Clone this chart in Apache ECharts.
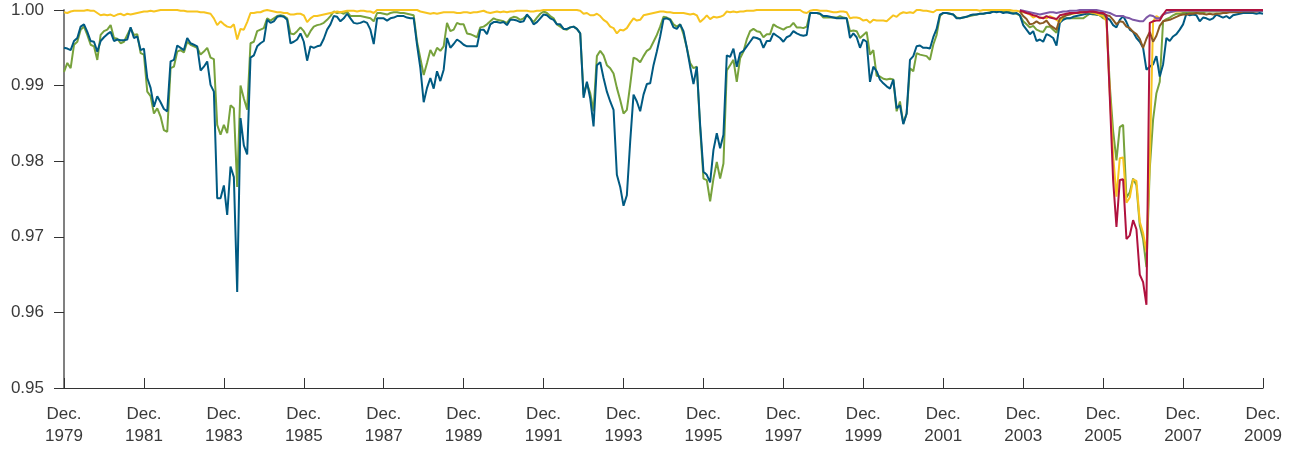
<!DOCTYPE html>
<html>
<head>
<meta charset="utf-8">
<script src="https://cdn.jsdelivr.net/npm/echarts@6/dist/echarts.min.js"></script>
<style>html,body{margin:0;padding:0;background:#fff}#chart{width:1296px;height:450px}</style>
</head>
<body>
<div id="chart"></div>
<script>
// Monthly observations, Dec. 1979 .. Dec. 2009 (361 months)
const monthNames = ['Jan.','Feb.','Mar.','Apr.','May','Jun.','Jul.','Aug.','Sep.','Oct.','Nov.','Dec.'];
const startYear = 1979, startMonth = 11, nMonths = 361;
const categories = [];
for (let i = 0; i < nMonths; i++) {
  const m = (startMonth + i) % 12;
  const y = startYear + Math.floor((startMonth + i) / 12);
  categories.push(monthNames[m] + ' ' + y);
}
const yTickLabels = ['0.95','0.96','0.97','0.98','0.99','1.00'];

const blue = [
0.9950,0.9949,0.9947,0.9959,0.9963,0.9978,0.9981,0.9971,0.9959,0.9958,
0.9945,0.9959,0.9964,0.9968,0.9971,0.9959,0.9961,0.9960,0.9960,0.9961,
0.9977,0.9963,0.9965,0.9947,0.9949,0.9910,0.9897,0.9872,0.9886,0.9878,
0.9869,0.9866,0.9932,0.9934,0.9953,0.9950,0.9947,0.9963,0.9956,0.9954,
0.9952,0.9920,0.9925,0.9932,0.9901,0.9892,0.9751,0.9751,0.9768,0.9729,
0.9793,0.9779,0.9627,0.9857,0.9821,0.9809,0.9937,0.9940,0.9952,0.9956,
0.9959,0.9987,0.9983,0.9985,0.9991,0.9992,0.9991,0.9987,0.9956,0.9958,
0.9961,0.9969,0.9958,0.9933,0.9952,0.9950,0.9952,0.9953,0.9962,0.9974,
0.9981,0.9992,0.9991,0.9985,0.9989,0.9995,0.9989,0.9983,0.9982,0.9983,
0.9985,0.9983,0.9974,0.9955,0.9989,0.9989,0.9989,0.9986,0.9989,0.9990,
0.9992,0.9992,0.9992,0.9990,0.9989,0.9989,0.9954,0.9923,0.9878,0.9897,
0.9910,0.9896,0.9919,0.9906,0.9921,0.9963,0.9950,0.9955,0.9961,0.9958,
0.9954,0.9952,0.9952,0.9952,0.9952,0.9974,0.9974,0.9968,0.9981,0.9984,
0.9984,0.9983,0.9984,0.9980,0.9987,0.9987,0.9986,0.9984,0.9985,0.9994,
0.9989,0.9981,0.9984,0.9989,0.9994,0.9993,0.9989,0.9987,0.9981,0.9981,
0.9975,0.9975,0.9977,0.9978,0.9975,0.9969,0.9884,0.9905,0.9883,0.9846,
0.9927,0.9931,0.9910,0.9892,0.9879,0.9868,0.9782,0.9766,0.9741,0.9755,
0.9826,0.9888,0.9879,0.9866,0.9888,0.9902,0.9903,0.9927,0.9945,0.9965,
0.9988,0.9989,0.9987,0.9977,0.9975,0.9981,0.9972,0.9950,0.9925,0.9902,
0.9925,0.9848,0.9786,0.9782,0.9772,0.9815,0.9837,0.9817,0.9835,0.9940,
0.9938,0.9949,0.9925,0.9943,0.9946,0.9952,0.9958,0.9964,0.9963,0.9961,
0.9950,0.9959,0.9959,0.9969,0.9966,0.9963,0.9958,0.9964,0.9966,0.9972,
0.9969,0.9967,0.9966,0.9967,0.9996,0.9996,0.9996,0.9995,0.9992,0.9992,
0.9991,0.9990,0.9989,0.9989,0.9989,0.9989,0.9963,0.9969,0.9964,0.9950,
0.9961,0.9958,0.9905,0.9925,0.9919,0.9908,0.9903,0.9899,0.9896,0.9908,
0.9870,0.9874,0.9849,0.9863,0.9934,0.9939,0.9952,0.9953,0.9950,0.9950,
0.9949,0.9964,0.9975,0.9994,0.9996,0.9996,0.9995,0.9994,0.9989,0.9989,
0.9990,0.9991,0.9993,0.9994,0.9994,0.9995,0.9995,0.9996,0.9996,0.9998,
0.9997,0.9998,0.9996,0.9997,0.9996,0.9995,0.9996,0.9993,0.9980,0.9974,
0.9968,0.9972,0.9959,0.9961,0.9958,0.9968,0.9966,0.9963,0.9953,0.9983,
0.9987,0.9989,0.9989,0.9991,0.9992,0.9993,0.9994,0.9995,0.9995,0.9995,
0.9994,0.9993,0.9993,0.9990,0.9987,0.9980,0.9977,0.9987,0.9992,0.9984,
0.9974,0.9971,0.9963,0.9958,0.9950,0.9921,0.9925,0.9928,0.9939,0.9912,
0.9928,0.9963,0.9959,0.9965,0.9968,0.9974,0.9981,0.9995,0.9993,0.9994,
0.9993,0.9985,0.9990,0.9989,0.9987,0.9989,0.9994,0.9992,0.9990,0.9992,
0.9989,0.9993,0.9994,0.9995,0.9996,0.9996,0.9996,0.9996,0.9995,0.9996,
0.9995];

const green = [
0.9918,0.9930,0.9923,0.9954,0.9958,0.9974,0.9978,0.9967,0.9954,0.9952,
0.9934,0.9967,0.9972,0.9974,0.9980,0.9963,0.9962,0.9956,0.9958,0.9967,
0.9976,0.9967,0.9968,0.9943,0.9941,0.9892,0.9886,0.9863,0.9870,0.9859,
0.9841,0.9839,0.9923,0.9925,0.9945,0.9947,0.9944,0.9958,0.9954,0.9952,
0.9950,0.9941,0.9945,0.9950,0.9937,0.9935,0.9848,0.9835,0.9848,0.9837,
0.9874,0.9870,0.9766,0.9900,0.9883,0.9868,0.9956,0.9958,0.9972,0.9974,
0.9976,0.9989,0.9986,0.9989,0.9992,0.9993,0.9992,0.9989,0.9969,0.9968,
0.9972,0.9977,0.9972,0.9964,0.9972,0.9978,0.9980,0.9981,0.9983,0.9987,
0.9992,0.9998,0.9996,0.9997,0.9995,0.9998,0.9992,0.9992,0.9992,0.9992,
0.9991,0.9990,0.9989,0.9985,0.9996,0.9996,0.9995,0.9994,0.9996,0.9997,
0.9997,0.9996,0.9996,0.9995,0.9994,0.9993,0.9958,0.9936,0.9914,0.9930,
0.9947,0.9939,0.9950,0.9946,0.9952,0.9983,0.9972,0.9974,0.9983,0.9981,
0.9981,0.9969,0.9968,0.9966,0.9964,0.9977,0.9978,0.9981,0.9985,0.9989,
0.9987,0.9986,0.9985,0.9983,0.9989,0.9991,0.9990,0.9987,0.9989,0.9993,
0.9989,0.9984,0.9990,0.9995,0.9998,0.9996,0.9992,0.9989,0.9981,0.9978,
0.9975,0.9974,0.9977,0.9978,0.9975,0.9969,0.9888,0.9903,0.9890,0.9866,
0.9939,0.9946,0.9940,0.9927,0.9923,0.9916,0.9897,0.9881,0.9863,0.9868,
0.9901,0.9937,0.9935,0.9931,0.9939,0.9946,0.9949,0.9958,0.9967,0.9978,
0.9991,0.9990,0.9988,0.9981,0.9978,0.9981,0.9968,0.9950,0.9930,0.9923,
0.9925,0.9844,0.9777,0.9775,0.9747,0.9777,0.9799,0.9777,0.9797,0.9920,
0.9927,0.9934,0.9905,0.9936,0.9945,0.9961,0.9972,0.9975,0.9972,0.9971,
0.9964,0.9968,0.9968,0.9981,0.9978,0.9976,0.9974,0.9977,0.9978,0.9983,
0.9977,0.9977,0.9976,0.9978,0.9996,0.9996,0.9996,0.9995,0.9990,0.9990,
0.9990,0.9990,0.9990,0.9992,0.9990,0.9989,0.9972,0.9973,0.9972,0.9963,
0.9967,0.9971,0.9941,0.9947,0.9913,0.9912,0.9909,0.9908,0.9909,0.9908,
0.9866,0.9879,0.9850,0.9863,0.9923,0.9919,0.9943,0.9941,0.9940,0.9939,
0.9934,0.9954,0.9967,0.9992,0.9996,0.9996,0.9995,0.9994,0.9990,0.9989,
0.9990,0.9991,0.9992,0.9993,0.9994,0.9995,0.9995,0.9996,0.9997,0.9998,
0.9998,0.9999,0.9998,0.9998,0.9997,0.9996,0.9995,0.9993,0.9985,0.9981,
0.9977,0.9979,0.9974,0.9972,0.9971,0.9978,0.9978,0.9974,0.9970,0.9987,
0.9989,0.9989,0.9989,0.9989,0.9989,0.9989,0.9989,0.9992,0.9995,0.9994,
0.9994,0.9993,0.9989,0.9988,0.9900,0.9840,0.9801,0.9845,0.9848,0.9752,
0.9759,0.9777,0.9768,0.9715,0.9697,0.9660,0.9790,0.9855,0.9890,0.9905,
0.9985,0.9988,0.9990,0.9993,0.9995,0.9995,0.9996,0.9996,0.9997,0.9997,
0.9997,0.9997,0.9997,0.9998,0.9998,0.9998,0.9998,0.9998,0.9998,0.9998,
0.9998,0.9998,0.9999,0.9999,0.9999,0.9999,0.9999,0.9999,0.9999,0.9999,
0.9999];

const yellow = [
0.9997,0.9996,0.9998,0.9999,0.9999,0.9999,0.9999,1.0000,0.9999,0.9999,
0.9996,0.9993,0.9994,0.9993,0.9994,0.9992,0.9994,0.9995,0.9993,0.9995,
0.9994,0.9995,0.9996,0.9997,0.9998,0.9998,0.9999,0.9998,0.9999,1.0000,
1.0000,1.0000,1.0000,1.0000,1.0000,0.9999,0.9999,0.9998,0.9998,0.9998,
0.9998,0.9997,0.9997,0.9996,0.9995,0.9989,0.9980,0.9985,0.9981,0.9978,
0.9977,0.9981,0.9961,0.9975,0.9974,0.9984,0.9996,0.9996,0.9997,0.9997,
0.9999,1.0000,0.9999,0.9998,0.9997,0.9997,0.9996,0.9996,0.9994,0.9994,
0.9995,0.9995,0.9993,0.9984,0.9989,0.9992,0.9992,0.9993,0.9994,0.9995,
0.9996,0.9997,0.9998,0.9997,0.9998,0.9999,0.9999,0.9999,0.9998,0.9999,
0.9999,0.9998,0.9998,0.9996,1.0000,1.0000,1.0000,1.0000,1.0000,1.0000,
1.0000,1.0000,1.0000,1.0000,1.0000,1.0000,1.0000,0.9998,0.9997,0.9996,
0.9995,0.9996,0.9995,0.9996,0.9997,0.9997,0.9997,0.9997,0.9996,0.9996,
0.9997,0.9997,0.9996,0.9997,0.9997,0.9998,0.9999,0.9997,0.9996,0.9997,
0.9998,0.9997,0.9998,0.9997,0.9998,0.9998,0.9999,0.9999,0.9999,0.9999,
0.9998,0.9998,0.9999,0.9999,1.0000,1.0000,1.0000,1.0000,1.0000,1.0000,
1.0000,1.0000,1.0000,1.0000,1.0000,0.9999,0.9995,0.9996,0.9993,0.9993,
0.9995,0.9992,0.9987,0.9984,0.9978,0.9976,0.9969,0.9974,0.9973,0.9976,
0.9983,0.9989,0.9986,0.9987,0.9993,0.9994,0.9995,0.9996,0.9997,0.9998,
0.9998,0.9997,0.9997,0.9996,0.9996,0.9996,0.9996,0.9995,0.9994,0.9995,
0.9993,0.9984,0.9988,0.9993,0.9988,0.9991,0.9990,0.9991,0.9993,0.9998,
0.9997,0.9998,0.9997,0.9998,0.9998,0.9999,0.9999,0.9999,1.0000,1.0000,
1.0000,1.0000,1.0000,1.0000,1.0000,1.0000,1.0000,1.0000,1.0000,1.0000,
1.0000,1.0000,0.9997,0.9996,0.9999,1.0000,1.0000,0.9999,0.9999,0.9999,
0.9998,0.9997,0.9997,0.9998,0.9998,0.9997,0.9989,0.9990,0.9990,0.9989,
0.9986,0.9987,0.9983,0.9987,0.9986,0.9986,0.9986,0.9985,0.9989,0.9993,
0.9991,0.9995,0.9997,0.9996,0.9997,0.9996,1.0000,1.0000,0.9999,0.9999,
0.9998,0.9997,1.0000,1.0000,1.0000,1.0000,1.0000,1.0000,1.0000,1.0000,
1.0000,1.0000,1.0000,1.0000,1.0000,0.9999,1.0000,1.0000,1.0000,1.0000,
1.0000,1.0000,1.0000,1.0000,1.0000,0.9999,0.9999,0.9998,0.9997,0.9996,
0.9994,0.9990,0.9992,0.9989,0.9990,0.9989,0.9992,0.9990,0.9987,0.9984,
0.9992,0.9994,0.9995,0.9995,0.9996,0.9996,0.9997,0.9997,0.9997,0.9996,
0.9995,0.9993,0.9992,0.9985,0.9890,0.9808,0.9753,0.9804,0.9805,0.9745,
0.9752,0.9776,0.9774,0.9720,0.9705,0.9680,0.9800,0.9985,0.9992,0.9989,
0.9994,0.9996,0.9997,0.9998,0.9998,0.9998,0.9999,0.9999,0.9999,0.9999,
0.9999,0.9999,0.9999,0.9999,0.9999,0.9999,0.9999,0.9999,0.9999,0.9999,
1.0000,1.0000,1.0000,1.0000,1.0000,1.0000,1.0000,1.0000,1.0000,1.0000,
1.0000];

// Series that begin in late 2003 (index 287)
const laterStart = 287;
const purpleValues = [
1.0000,0.9999,0.9998,0.9997,0.9996,0.9995,0.9994,0.9995,0.9996,0.9997,
0.9997,0.9996,0.9997,0.9998,0.9998,0.9999,0.9999,0.9999,1.0000,1.0000,
1.0000,1.0000,1.0000,1.0000,0.9999,0.9998,0.9997,0.9996,0.9994,0.9992,
0.9992,0.9992,0.9990,0.9989,0.9987,0.9986,0.9985,0.9985,0.9990,0.9993,
0.9992,0.9989,0.9989,0.9994,0.9996,0.9997,0.9998,0.9999,0.9999,0.9999,
0.9999,0.9999,0.9999,0.9999,0.9999,0.9999,0.9999,0.9999,0.9999,0.9999,
0.9999,0.9999,0.9999,0.9999,0.9999,0.9999,0.9999,0.9999,0.9999,0.9999,
0.9999,0.9999,0.9999,0.9999];
const brownValues = [
0.9998,0.9992,0.9988,0.9981,0.9982,0.9985,0.9982,0.9983,0.9986,0.9980,
0.9977,0.9974,0.9989,0.9991,0.9993,0.9994,0.9996,0.9996,0.9997,0.9997,
0.9998,0.9998,0.9997,0.9997,0.9996,0.9995,0.9993,0.9992,0.9987,0.9981,
0.9985,0.9984,0.9978,0.9976,0.9971,0.9968,0.9962,0.9950,0.9962,0.9971,
0.9958,0.9966,0.9979,0.9985,0.9986,0.9987,0.9989,0.9991,0.9993,0.9994,
0.9994,0.9995,0.9995,0.9996,0.9995,0.9995,0.9994,0.9995,0.9994,0.9995,
0.9995,0.9996,0.9996,0.9997,0.9997,0.9997,0.9997,0.9998,0.9998,0.9998,
0.9998,0.9998,0.9999,0.9999];
const redValues = [
0.9999,0.9998,0.9996,0.9995,0.9993,0.9992,0.9990,0.9989,0.9992,0.9990,
0.9989,0.9988,0.9993,0.9994,0.9995,0.9996,0.9996,0.9996,0.9997,0.9997,
0.9997,0.9998,0.9998,0.9997,0.9996,0.9996,0.9993,0.9885,0.9775,0.9713,
0.9775,0.9776,0.9697,0.9702,0.9722,0.9710,0.9650,0.9640,0.9610,0.9983,
0.9985,0.9986,0.9986,0.9994,1.0000,1.0000,1.0000,1.0000,1.0000,1.0000,
1.0000,1.0000,1.0000,1.0000,1.0000,1.0000,1.0000,1.0000,1.0000,1.0000,
1.0000,1.0000,1.0000,1.0000,1.0000,1.0000,1.0000,1.0000,1.0000,1.0000,
1.0000,1.0000,1.0000,1.0000];
const lead = new Array(laterStart).fill(null);
const purple = lead.concat(purpleValues);
const brown = lead.concat(brownValues);
const red = lead.concat(redValues);

const seriesDefs = [
  {name: 'green', data: green, color: '#77A23C'},
  {name: 'blue', data: blue, color: '#005A82'},
  {name: 'yellow', data: yellow, color: '#F7C41F'},
  {name: 'brown', data: brown, color: '#8A5A23'},
  {name: 'purple', data: purple, color: '#7E57A6'},
  {name: 'red', data: red, color: '#B0123F'}
];

const chart = echarts.init(document.getElementById('chart'), null, {renderer: 'canvas'});
const labelFont = 'Liberation Sans, Arial, sans-serif';
chart.setOption({
  animation: false,
  backgroundColor: '#fff',
  grid: {left: 64, right: 33, top: 10, bottom: 62, containLabel: false},
  xAxis: {
    type: 'category',
    data: categories,
    boundaryGap: false,
    axisLine: {show: true, lineStyle: {color: '#333', width: 1.2}},
    axisTick: {show: true, inside: true, length: 10, lineStyle: {color: '#333', width: 1},
      interval: function (i) { return i % 24 === 0; }},
    axisLabel: {
      interval: function (i) { return i % 24 === 0; },
      formatter: function (v) { const p = v.split(' '); return p[0] + '\n' + p[1]; },
      fontFamily: labelFont, fontSize: 17, color: '#3a3a3a', lineHeight: 22, margin: 15
    },
    splitLine: {show: false}
  },
  yAxis: {
    type: 'value',
    min: 0.95, max: 1.00, interval: 0.01,
    axisLine: {show: true, lineStyle: {color: '#808080', width: 2}},
    axisTick: {show: true, inside: false, length: 10, lineStyle: {color: '#333', width: 1}},
    axisLabel: {
      formatter: function (v) { const s = v.toFixed(2); return yTickLabels.indexOf(s) >= 0 ? s : ''; },
      fontFamily: labelFont, fontSize: 17, color: '#3a3a3a', margin: 20
    },
    splitLine: {show: false}
  },
  series: seriesDefs.map(function (s) {
    return {
      name: s.name, type: 'line', data: s.data, showSymbol: false, symbol: 'none',
      clip: false, connectNulls: false,
      lineStyle: {color: s.color, width: 2},
      itemStyle: {color: s.color},
      emphasis: {disabled: true}
    };
  })
});
</script>
</body>
</html>
